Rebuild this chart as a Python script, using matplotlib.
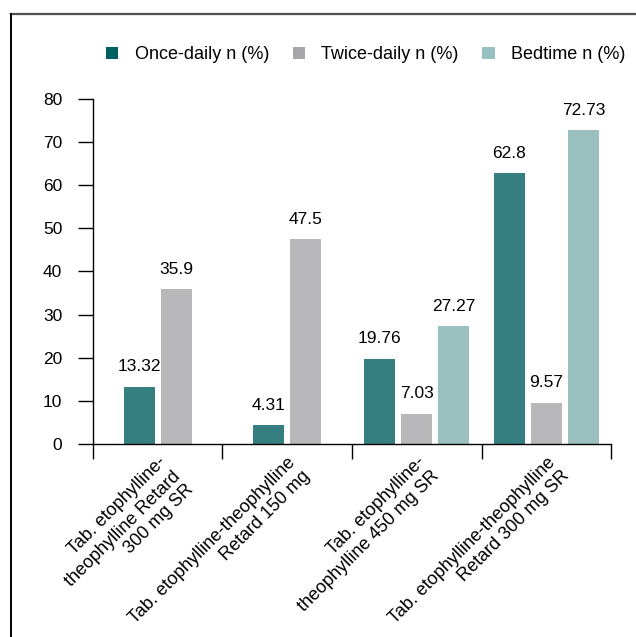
import numpy as np
import matplotlib
matplotlib.use("Agg")
import matplotlib.pyplot as plt
from matplotlib.patches import Patch
from matplotlib.lines import Line2D

plt.rcParams['font.family'] = ['Liberation Sans', 'DejaVu Sans']

# Data
categories = [
    "Tab. etophylline-\ntheophylline Retard\n300 mg SR",
    "Tab. etophylline-theophylline\nRetard 150 mg",
    "Tab. etophylline-\ntheophylline 450 mg SR",
    "Tab. etophylline-theophylline\nRetard 300 mg SR",
]
once_daily = [13.32, 4.31, 19.76, 62.8]
twice_daily = [35.9, 47.5, 7.03, 9.57]
bedtime = [None, None, 27.27, 72.73]

series_names = ["Once-daily n (%)", "Twice-daily n (%)", "Bedtime n (%)"]
bar_colors = ["#357f80", "#b8b8ba", "#99bfbf"]
legend_colors = ["#006060", "#a7a7a9", "#99c0c0"]

fig = plt.figure(figsize=(6.36, 6.37), dpi=100)
ax = fig.add_axes([0.146, 0.303, 0.815, 0.5416])

width = 0.24
step = 0.285
all_series = [once_daily, twice_daily, bedtime]
for i in range(len(categories)):
    present = [s for s in range(3) if all_series[s][i] is not None]
    n = len(present)
    for k, s in enumerate(present):
        val = all_series[s][i]
        x = i + (k - (n - 1) / 2) * step
        ax.bar(x, val, width=width, color=bar_colors[s], zorder=2)
        ax.annotate(f"{val:g}", (x, val), xytext=(0, 9), textcoords="offset points",
                    ha="center", va="bottom", fontsize=12.5)

ax.set_xlim(-0.5, len(categories) - 0.5)
ax.set_ylim(0, 80)
ax.set_yticks(np.arange(0, 81, 10))
ax.tick_params(axis='y', length=11, width=1.0, labelsize=12.5, pad=11, color='black')

# category labels at group centres, boundary ticks as minor ticks
ax.set_xticks(np.arange(len(categories)))
ax.set_xticklabels(categories, rotation=45, ha='right', va='top',
                   rotation_mode='anchor', multialignment='right', fontsize=13)
ax.set_xticks(np.arange(-0.5, len(categories), 1), minor=True)
ax.tick_params(axis='x', which='major', length=0, pad=7)
ax.tick_params(axis='x', which='minor', length=11, width=1.0, color='black')

for side in ['top', 'right']:
    ax.spines[side].set_visible(False)
for side in ['left', 'bottom']:
    ax.spines[side].set_linewidth(1.0)
    ax.spines[side].set_color('black')

handles = [Patch(facecolor=c, edgecolor='none') for c in legend_colors]
fig.legend(handles, series_names, loc='center', bbox_to_anchor=(0.575, 0.914),
           ncol=3, frameon=False, fontsize=13, handlelength=0.7, handleheight=0.7,
           handletextpad=0.9, columnspacing=1.3)

# partial frame around the figure
fig.add_artist(Line2D([10.5 / 636, 1.0], [1 - 14 / 637, 1 - 14 / 637],
                      transform=fig.transFigure, color='#505050', lw=1.6))
fig.add_artist(Line2D([11 / 636, 11 / 636], [0.0, 1 - 14 / 637],
                      transform=fig.transFigure, color='black', lw=1.4))

fig.savefig("out.png", dpi=100, facecolor='white')
